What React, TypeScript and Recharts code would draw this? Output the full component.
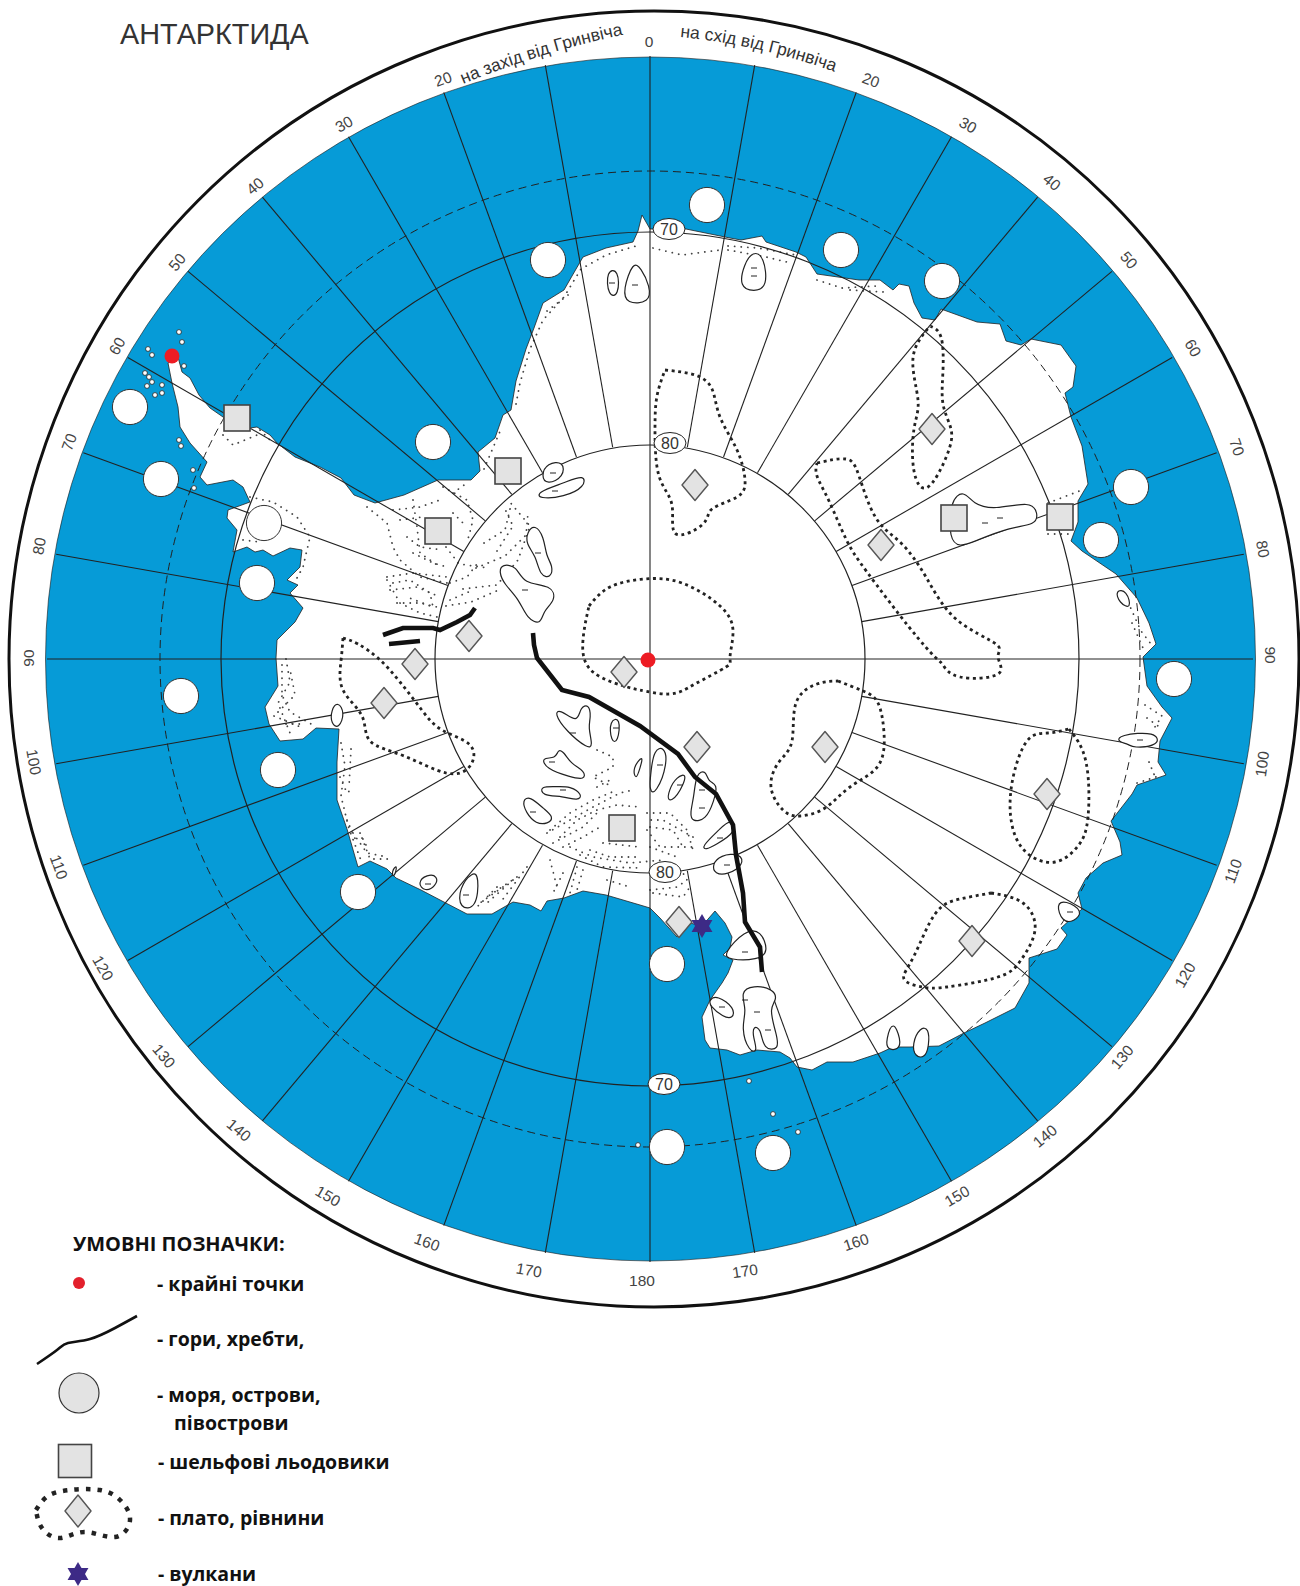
import React from "react";
import { Scatter, ScatterChart, XAxis, YAxis } from "recharts";

type Pt = [number, number];

const WIDTH = 1300;
const HEIGHT = 1586;
const SEA = "#069bd7";
const INK = "#222";
const MARK_GREY = "#e3e3e3";
const TEXT_FONT = "'Liberation Sans', Arial, sans-serif";
const LEGEND_FONT = "'Open Sans', 'Noto Sans', sans-serif";

const poleCentre: Pt = [650, 659];

// bearings of the meridians, degrees clockwise from the top of the map
const shortMeridians = [
  10, 20, 30, 40, 50, 60, 70, 80, 100, 110, 120, 130, 140, 150, 160, 170, 190, 200, 210, 220, 230, 240, 250, 260, 280,
  290, 300, 310, 320, 330, 340, 350,
];
const fullMeridians = [0, 90, 180, 270];

const coast: Pt[] = [
  [168, 363], [172, 383], [178, 407], [180, 427], [190, 443], [207, 462], [200, 477], [207, 485], [233, 480],
  [243, 487], [250, 502], [228, 510], [227, 518], [237, 530], [233, 552], [247, 547], [255, 552], [263, 550],
  [273, 556], [290, 548], [302, 550], [300, 567], [287, 580], [298, 585], [290, 593], [303, 608], [295, 622],
  [277, 640], [276, 658], [278, 686], [265, 707], [269, 724], [280, 741], [303, 739], [316, 728], [339, 729],
  [337, 762], [337, 800], [347, 829], [358, 867], [370, 861], [387, 869], [396, 878], [421, 890], [442, 901],
  [467, 914], [492, 914], [513, 902], [530, 905], [541, 911], [547, 901], [564, 898], [583, 891], [606, 895],
  [640, 905], [650, 908], [660, 918], [677, 937], [690, 923], [702, 926], [715, 911], [725, 923], [732, 937],
  [730, 948], [723, 955], [733, 960], [728, 973], [722, 983], [710, 1000], [702, 1017], [705, 1040], [710, 1048],
  [727, 1050], [740, 1055], [757, 1050], [780, 1052], [790, 1058], [797, 1067], [812, 1070], [827, 1062], [853, 1062],
  [880, 1053], [893, 1047], [910, 1047], [939, 1046], [964, 1033], [985, 1023], [1015, 1008], [1029, 983], [1029, 958],
  [1057, 949], [1067, 935], [1061, 928], [1082, 909], [1078, 893], [1086, 878], [1103, 863], [1122, 855], [1120, 842],
  [1111, 821], [1132, 794], [1137, 785], [1166, 775], [1158, 762], [1160, 741], [1172, 718], [1162, 707], [1147, 686],
  [1143, 657], [1156, 644], [1149, 623], [1137, 598], [1116, 574], [1082, 551], [1071, 541], [1078, 522], [1078, 501],
  [1088, 484], [1082, 446], [1071, 417], [1065, 393], [1073, 387], [1076, 366], [1061, 345], [1031, 339], [1021, 345],
  [1006, 341], [1000, 324], [977, 322], [941, 309], [935, 320], [922, 318], [914, 303], [909, 286], [899, 284],
  [893, 290], [880, 280], [859, 280], [817, 274], [806, 257], [796, 252], [766, 242], [762, 236], [741, 240],
  [730, 238], [686, 229], [650, 229], [642, 215], [638, 231], [633, 242], [606, 248], [583, 257], [572, 276],
  [564, 290], [543, 303], [534, 328], [526, 349], [516, 381], [511, 410], [503, 415], [495, 438], [478, 452],
  [480, 471], [471, 480], [438, 480], [404, 495], [375, 503], [354, 495], [341, 478], [320, 467], [295, 457],
  [277, 443], [270, 435], [257, 427], [250, 428], [223, 417], [210, 408], [199, 395], [190, 378], [182, 372], [178, 357],
];

const plateaus: Pt[][] = [
  [[589, 606], [610, 587], [644, 579], [682, 583], [720, 606], [733, 631], [730, 657], [726, 667], [695, 684], [669, 694], [640, 690], [631, 688], [593, 672], [583, 640]],
  [[665, 370], [695, 375], [712, 389], [720, 417], [737, 450], [745, 480], [737, 497], [712, 509], [703, 524], [676, 534], [672, 505], [659, 476], [655, 429], [657, 396]],
  [[930, 326], [941, 337], [943, 370], [943, 404], [951, 429], [947, 455], [928, 487], [914, 471], [914, 429], [918, 400], [913, 358]],
  [[817, 463], [846, 459], [859, 476], [876, 518], [901, 543], [926, 577], [956, 619], [996, 644], [998, 657], [998, 674], [960, 677], [943, 665], [935, 657], [909, 627], [867, 572], [846, 539], [829, 501], [817, 476]],
  [[838, 681], [863, 691], [878, 703], [884, 733], [878, 766], [850, 787], [825, 808], [800, 816], [783, 810], [771, 787], [779, 762], [792, 741], [796, 703], [817, 684]],
  [[1069, 729], [1086, 762], [1088, 817], [1078, 846], [1055, 862], [1027, 853], [1012, 825], [1012, 783], [1027, 741], [1048, 733]],
  [[991, 893], [1023, 903], [1035, 930], [1021, 960], [998, 977], [947, 987], [922, 987], [904, 979], [914, 956], [935, 914], [960, 899]],
  [[343, 638], [358, 644], [379, 659], [400, 682], [421, 709], [442, 730], [470, 745], [470, 766], [446, 773], [404, 756], [370, 741], [362, 716], [343, 690], [341, 661]],
];

const glaciers: Pt[][] = [
  [[541, 476], [547, 463], [564, 461], [564, 477], [547, 485]],
  [[537, 492], [564, 483], [585, 474], [585, 487], [564, 497], [539, 499]],
  [[527, 532], [535, 524], [544, 537], [546, 556], [553, 566], [551, 578], [540, 576], [536, 556], [526, 544]],
  [[499, 572], [502, 564], [517, 566], [523, 584], [552, 585], [556, 600], [543, 611], [541, 625], [527, 619], [519, 599], [504, 584]],
  [[606, 270], [619, 269], [619, 296], [608, 297]],
  [[633, 261], [641, 268], [650, 286], [650, 303], [626, 304], [623, 290]],
  [[753, 251], [764, 256], [768, 287], [754, 292], [739, 287], [744, 264]],
  [[950, 500], [964, 490], [973, 504], [994, 510], [1031, 501], [1038, 513], [1036, 525], [1010, 527], [973, 542], [960, 547], [949, 540]],
  [[1115, 590], [1127, 590], [1132, 610], [1119, 603]],
  [[1118, 735], [1157, 731], [1160, 746], [1132, 748], [1129, 744], [1118, 742]],
  [[1056, 904], [1065, 900], [1084, 911], [1074, 922], [1062, 922]],
  [[893, 1019], [901, 1040], [899, 1050], [887, 1050], [886, 1040]],
  [[920, 1027], [929, 1028], [929, 1046], [925, 1058], [915, 1057], [912, 1044]],
  [[740, 992], [753, 985], [774, 989], [777, 1000], [769, 1008], [776, 1033], [780, 1050], [763, 1050], [761, 1028], [753, 1026], [753, 1037], [758, 1052], [749, 1052], [741, 1028], [747, 1010]],
  [[709, 1000], [717, 995], [735, 1008], [733, 1019], [723, 1017], [710, 1006]],
  [[723, 954], [745, 930], [761, 930], [769, 952], [758, 960], [729, 960]],
  [[712, 865], [720, 855], [741, 853], [744, 865], [727, 875], [715, 874]],
  [[701, 847], [720, 829], [731, 818], [737, 832], [715, 845], [706, 850]],
  [[554, 713], [560, 709], [578, 724], [580, 707], [589, 704], [591, 717], [588, 727], [593, 746], [588, 749], [566, 731]],
  [[609, 720], [621, 717], [618, 743], [611, 742]],
  [[541, 757], [556, 759], [558, 749], [564, 752], [571, 764], [585, 771], [585, 780], [570, 777], [546, 769]],
  [[540, 786], [557, 787], [570, 786], [583, 795], [578, 801], [563, 796], [542, 796]],
  [[522, 800], [530, 796], [544, 809], [554, 817], [548, 824], [536, 824], [526, 813]],
  [[632, 768], [644, 754], [640, 768], [636, 781]],
  [[654, 750], [664, 746], [668, 763], [656, 794], [649, 792], [651, 770]],
  [[676, 777], [689, 772], [677, 798], [667, 802], [669, 790]],
  [[696, 773], [706, 770], [708, 782], [718, 784], [714, 801], [706, 820], [692, 822], [690, 813], [694, 797]],
  [[417, 883], [427, 874], [438, 876], [436, 886], [425, 892]],
  [[459, 888], [473, 871], [479, 876], [477, 909], [459, 909]],
  [[331, 710], [338, 701], [345, 713], [339, 729], [331, 724]],
  [[391, 872], [398, 863], [394, 879]],
];

const glacierTicks: Pt[] = [
  [553, 473], [555, 491], [538, 553], [525, 590], [612, 283], [635, 285], [754, 268], [754, 276], [985, 523], [1000, 518],
  [1140, 740], [1070, 912], [745, 1000], [757, 1012], [768, 1030], [722, 1007], [745, 952], [727, 865], [720, 838],
  [573, 733], [616, 728], [552, 762], [563, 790], [533, 812], [660, 765], [680, 785], [702, 790], [702, 808], [428, 884], [466, 895],
];

const islets: Pt[] = [
  [148, 349], [152, 355], [145, 373], [149, 377], [152, 382], [147, 386], [162, 385], [162, 393], [155, 395], [182, 342],
  [179, 332], [184, 366], [179, 440], [181, 446], [193, 470], [194, 488], [749, 1081], [773, 1114], [798, 1132], [638, 1145],
];

const stipple: Pt[][] = [
  [[367, 507], [387, 523], [393, 547], [400, 560], [420, 577], [447, 583]],
  [[413, 500], [417, 527], [420, 553], [440, 567]],
  [[443, 487], [467, 500], [473, 520], [467, 543]],
  [[387, 580], [400, 603], [420, 613], [437, 617]],
  [[393, 583], [410, 580], [430, 593], [433, 607], [407, 597]],
  [[446, 547], [459, 564], [488, 568]],
  [[463, 589], [497, 585], [518, 560], [530, 526], [509, 501]],
  [[446, 606], [471, 602], [501, 589]],
  [[484, 469], [501, 429]],
  [[497, 551], [513, 526], [505, 509]],
  [[516, 404], [520, 383], [530, 349], [543, 320], [564, 297], [581, 269], [606, 255], [636, 246]],
  [[547, 311], [568, 295]],
  [[653, 248], [682, 255], [720, 250]],
  [[728, 246], [758, 248], [796, 255]],
  [[728, 250], [766, 257], [791, 263]],
  [[817, 280], [842, 288], [876, 286]],
  [[850, 290], [884, 292]],
  [[1048, 503], [1082, 490]],
  [[1048, 534], [1069, 534]],
  [[1128, 602], [1141, 631], [1151, 644]],
  [[1132, 623], [1143, 648]],
  [[1145, 705], [1162, 716], [1153, 730]],
  [[1147, 718], [1158, 726]],
  [[1137, 783], [1162, 775]],
  [[1149, 762], [1156, 779]],
  [[223, 435], [233, 445], [257, 435]],
  [[260, 430], [270, 440]],
  [[250, 497], [273, 502], [297, 517], [310, 537], [303, 567], [297, 578]],
  [[243, 540], [260, 542]],
  [[286, 659], [290, 682], [278, 703], [290, 733]],
  [[274, 716], [303, 728]],
  [[282, 665], [282, 695], [290, 712], [311, 724]],
  [[278, 712], [295, 695], [290, 669]],
  [[286, 724], [303, 724]],
  [[341, 743], [345, 766], [341, 796], [349, 829], [362, 863]],
  [[351, 749], [349, 787]],
  [[362, 838], [370, 859], [391, 859]],
  [[340, 777], [347, 793], [353, 788]],
  [[347, 820], [357, 843]],
  [[360, 833], [367, 847]],
  [[393, 510], [420, 507], [440, 500]],
  [[400, 520], [423, 517]],
  [[453, 493], [467, 483]],
  [[453, 513], [463, 523]],
  [[407, 537], [420, 547], [443, 550]],
  [[413, 553], [433, 563], [447, 567]],
  [[387, 577], [413, 573], [447, 577]],
  [[390, 590], [417, 587], [440, 597]],
  [[397, 603], [420, 603], [437, 607]],
  [[450, 583], [467, 577], [480, 560]],
  [[450, 600], [473, 590]],
  [[484, 543], [505, 530], [511, 505]],
  [[476, 568], [505, 556], [526, 535], [528, 513]],
  [[547, 833], [570, 820], [593, 807], [620, 793], [633, 790]],
  [[553, 843], [583, 827], [597, 813]],
  [[560, 837], [577, 820], [597, 810], [617, 805], [640, 807]],
  [[550, 830], [570, 813], [593, 800], [617, 790]],
  [[563, 847], [583, 837], [600, 827]],
  [[570, 847], [593, 857], [630, 863], [663, 860]],
  [[580, 855], [603, 867], [643, 868]],
  [[590, 850], [610, 857], [640, 857]],
  [[603, 843], [640, 847]],
  [[693, 837], [663, 820], [650, 820]],
  [[647, 813], [670, 813], [687, 830], [693, 850]],
  [[650, 827], [673, 830], [683, 847]],
  [[647, 830], [660, 847], [693, 847]],
  [[650, 847], [677, 857]],
  [[597, 750], [613, 757], [613, 767], [593, 777], [613, 787]],
  [[597, 787], [610, 780]],
  [[550, 860], [557, 887]],
  [[563, 873], [553, 893]],
  [[577, 867], [570, 893]],
  [[583, 870], [577, 890]],
  [[607, 880], [630, 887]],
  [[650, 890], [677, 887], [687, 880], [683, 873]],
  [[653, 893], [683, 897], [690, 887]],
  [[497, 887], [477, 907]],
  [[517, 877], [487, 897]],
  [[503, 887], [480, 903]],
  [[513, 880], [487, 903]],
  [[527, 867], [500, 903]],
  [[353, 833], [367, 853], [387, 857]],
];

const ranges: Pt[][] = [
  [[533, 633], [534, 645], [537, 658], [562, 690], [589, 697], [640, 726], [678, 754], [695, 777], [716, 794], [733, 825], [736, 855], [743, 893], [745, 922], [760, 947], [762, 972]],
  [[383, 635], [403, 628], [433, 628], [440, 630], [457, 622], [470, 615], [475, 608]],
  [[389, 644], [420, 641]],
];
const legendRange: Pt[] = [[37, 1364], [57, 1350], [68, 1343], [90, 1339], [115, 1328], [137, 1316]];

const seaCircles: Pt[] = [
  [548, 260], [433, 442], [130, 407], [161, 479], [264, 523], [257, 583], [707, 205], [841, 250], [942, 281], [1131, 487],
  [1101, 540], [181, 696], [278, 770], [358, 892], [1174, 679], [667, 964], [667, 1147], [773, 1153],
];
const shelfSquares: Pt[] = [[237, 418], [508, 471], [438, 531], [954, 518], [1060, 517], [622, 828]];
const plateauDiamonds: Pt[] = [
  [469, 636], [415, 664], [384, 703], [624, 672], [695, 485], [932, 429], [881, 545], [697, 747], [825, 747], [1047, 794], [972, 941], [679, 922],
];
const extremePoints: Pt[] = [[172, 356], [648, 660]];
const volcanoes: Pt[] = [[702, 926]];

const latitudeBadges = [
  { x: 669, y: 229, label: "70" },
  { x: 670, y: 443, label: "80" },
  { x: 665, y: 872, label: "80" },
  { x: 664, y: 1084, label: "70" },
];

const degreeLabels = [
  { x: 649, y: 41, label: "0", angle: 0 },
  { x: 443, y: 79, label: "20", angle: -20 },
  { x: 344, y: 124, label: "30", angle: -30 },
  { x: 255, y: 186, label: "40", angle: -40 },
  { x: 177, y: 262, label: "50", angle: -50 },
  { x: 117, y: 346, label: "60", angle: -60 },
  { x: 69, y: 442, label: "70", angle: -70 },
  { x: 39, y: 546, label: "80", angle: -80 },
  { x: 28, y: 658, label: "90", angle: -90 },
  { x: 34, y: 762, label: "100", angle: 80 },
  { x: 59, y: 867, label: "110", angle: 70 },
  { x: 103, y: 968, label: "120", angle: 60 },
  { x: 164, y: 1056, label: "130", angle: 50 },
  { x: 239, y: 1130, label: "140", angle: 40 },
  { x: 328, y: 1196, label: "150", angle: 30 },
  { x: 427, y: 1242, label: "160", angle: 20 },
  { x: 529, y: 1270, label: "170", angle: 10 },
  { x: 642, y: 1280, label: "180", angle: 0 },
  { x: 745, y: 1271, label: "170", angle: -8 },
  { x: 856, y: 1242, label: "160", angle: -18 },
  { x: 957, y: 1196, label: "150", angle: -30 },
  { x: 1045, y: 1136, label: "140", angle: -40 },
  { x: 1122, y: 1057, label: "130", angle: -50 },
  { x: 1185, y: 975, label: "120", angle: -60 },
  { x: 1233, y: 871, label: "110", angle: -70 },
  { x: 1262, y: 764, label: "100", angle: -82 },
  { x: 1270, y: 655, label: "90", angle: 90 },
  { x: 1263, y: 549, label: "80", angle: 80 },
  { x: 1237, y: 447, label: "70", angle: 70 },
  { x: 1193, y: 348, label: "60", angle: 60 },
  { x: 1129, y: 260, label: "50", angle: 50 },
  { x: 1052, y: 182, label: "40", angle: 40 },
  { x: 968, y: 125, label: "30", angle: 30 },
  { x: 871, y: 80, label: "20", angle: 20 },
];

const legendTexts = [
  { x: 157, y: 1291, label: "- крайні точки" },
  { x: 157, y: 1346, label: "- гори, хребти," },
  { x: 157, y: 1402, label: "- моря, острови," },
  { x: 174, y: 1430, label: "півострови" },
  { x: 158, y: 1469, label: "- шельфові льодовики" },
  { x: 158, y: 1525, label: "- плато, рівнини" },
  { x: 158, y: 1581, label: "- вулкани" },
];
const legendHeading = [{ x: 73, y: 1251, label: "УМОВНІ ПОЗНАЧКИ:" }];
const mapTitle = [{ x: 120, y: 44, label: "АНТАРКТИДА" }];
const legendPlateau: Pt[] = [[36, 1510], [48, 1496], [70, 1490], [100, 1490], [120, 1500], [130, 1520], [115, 1537], [85, 1532], [60, 1538], [42, 1528]];

const toRows = (pts: Pt[]) => pts.map(([x, y]) => ({ x, y }));
const closed = (pts: Pt[]) => [...pts, pts[0]];

const meridianRay = (bearing: number, inner: number): Pt[] => {
  const a = (bearing * Math.PI) / 180;
  return [inner, 603].map((r) => [poleCentre[0] + r * Math.sin(a), poleCentre[1] - r * Math.cos(a)] as Pt);
};

const NoDot = () => <g />;

const polyline = (key: string, pts: Pt[], lineProps: Record<string, unknown>, joint: any = "linear") => (
  <Scatter
    key={key}
    data={toRows(pts)}
    line={lineProps}
    lineJointType={joint}
    shape={NoDot}
    isAnimationActive={false}
    legendType="none"
  />
);

const marks = (key: string, rows: object[], shape: (p: any) => React.ReactElement) => (
  <Scatter key={key} data={rows} shape={shape} isAnimationActive={false} legendType="none" />
);

const ring = (rx: number, ry: number, fill: string, stroke: string, strokeWidth: number, dash?: string) => (p: any) => (
  <ellipse cx={p.cx} cy={p.cy} rx={rx} ry={ry} fill={fill} stroke={stroke} strokeWidth={strokeWidth} strokeDasharray={dash} />
);

const square = (side: number) => (p: any) => (
  <rect x={p.cx - side / 2} y={p.cy - side / 2} width={side} height={side} fill={MARK_GREY} stroke="#444" strokeWidth={1.6} />
);

const diamond = (w: number, h: number) => (p: any) => (
  <polygon
    points={`${p.cx},${p.cy - h} ${p.cx + w},${p.cy} ${p.cx},${p.cy + h} ${p.cx - w},${p.cy}`}
    fill={MARK_GREY}
    stroke="#555"
    strokeWidth={1.4}
    strokeLinejoin="round"
  />
);

const star = (r: number) => (p: any) => {
  const up = `${p.cx},${p.cy - r} ${p.cx + r * 0.87},${p.cy + r / 2} ${p.cx - r * 0.87},${p.cy + r / 2}`;
  const down = `${p.cx},${p.cy + r} ${p.cx + r * 0.87},${p.cy - r / 2} ${p.cx - r * 0.87},${p.cy - r / 2}`;
  return (
    <g fill="#3d2a86">
      <polygon points={up} />
      <polygon points={down} />
    </g>
  );
};

const tick = (p: any) => <line x1={p.cx - 3} x2={p.cx + 3} y1={p.cy} y2={p.cy} stroke={INK} strokeWidth={1} />;

const degreeText = (p: any) => (
  <text
    x={p.cx}
    y={p.cy}
    fontFamily={TEXT_FONT}
    fontSize={15.5}
    fill="#444"
    textAnchor="middle"
    dominantBaseline="central"
    transform={`rotate(${p.payload.angle} ${p.cx} ${p.cy})`}
  >
    {p.payload.label}
  </text>
);

const badge = (p: any) => (
  <g>
    <ellipse cx={p.cx} cy={p.cy} rx={16} ry={10.5} fill="#fff" stroke={INK} strokeWidth={1} />
    <text x={p.cx} y={p.cy} fontFamily={TEXT_FONT} fontSize={16} fill="#333" textAnchor="middle" dominantBaseline="central">
      {p.payload.label}
    </text>
  </g>
);

const plainText = (font: string, size: number, weight: number | string, fill: string) => (p: any) => (
  <text x={p.cx} y={p.cy} fontFamily={font} fontSize={size} fontWeight={weight} fill={fill}>
    {p.payload.label}
  </text>
);

// the two captions bend along the rim of the map
const arcCaption = () => (
  <g fontFamily={TEXT_FONT} fontSize={17.5} fill="#333">
    <path id="capWest" d="M463 84 Q546 50 632 33" fill="none" />
    <path id="capEast" d="M680 37 Q764 45 846 76" fill="none" />
    <text>
      <textPath href="#capWest">на захід від Гринвіча</textPath>
    </text>
    <text>
      <textPath href="#capEast">на схід від Гринвіча</textPath>
    </text>
  </g>
);

export default function App() {
  return (
    <div style={{ position: "absolute", left: 0, top: 0, width: WIDTH, height: HEIGHT, background: "#fff" }}>
      <ScatterChart width={WIDTH} height={HEIGHT} margin={{ top: 0, right: 0, bottom: 0, left: 0 }}>
        <XAxis type="number" dataKey="x" domain={[0, WIDTH]} hide />
        <YAxis type="number" dataKey="y" domain={[0, HEIGHT]} reversed hide />

        {marks("rim", toRows([[654, 659]]), ring(645, 648, "#fff", "#111", 3))}
        {marks("ocean", toRows([[650.5, 659]]), ring(605, 602, SEA, "#1a1a1a", 0.6))}
        {polyline("land", closed(coast), { fill: "#fff", stroke: INK, strokeWidth: 0.8 })}
        {stipple.map((s, i) =>
          polyline(`stipple-${i}`, s, { stroke: "#444", strokeWidth: 1.8, strokeLinecap: "round", strokeDasharray: "0.1 6.5" })
        )}
        {marks("lat-66", toRows([poleCentre]), ring(490, 488, "none", "#222", 1, "8 5"))}
        {marks("lat-70", toRows([poleCentre]), ring(429, 427, "none", "#222", 1.2))}
        {marks("lat-80", toRows([poleCentre]), ring(215, 214, "none", "#222", 1.2))}
        {shortMeridians.map((b) => polyline(`mer-${b}`, meridianRay(b, 215), { stroke: "#222", strokeWidth: 1.1 }))}
        {fullMeridians.map((b) => polyline(`mer-${b}`, meridianRay(b, 0), { stroke: "#222", strokeWidth: 1.1 }))}

        {glaciers.map((g, i) => polyline(`glacier-${i}`, g, { fill: "#fff", stroke: "#222", strokeWidth: 1.2 }, "basisClosed"))}
        {marks("glacier-ticks", toRows(glacierTicks), tick)}
        {marks("islets", toRows(islets), ring(2.4, 2.4, "#fff", "#222", 0.8))}
        {plateaus.map((pl, i) =>
          polyline(`plateau-${i}`, closed(pl), { stroke: "#222", strokeWidth: 2.8, strokeDasharray: "3 3.6" }, "natural")
        )}
        {ranges.map((r, i) => polyline(`range-${i}`, r, { stroke: "#111", strokeWidth: 4.6 }))}

        {marks("sea-circles", toRows(seaCircles), ring(17.6, 17.6, "#fff", "#333", 1))}
        {marks("shelves", toRows(shelfSquares), square(26))}
        {marks("diamonds", toRows(plateauDiamonds), diamond(13, 15.5))}
        {marks("volcanoes", toRows(volcanoes), star(12))}
        {marks("extremes", toRows(extremePoints), ring(7.5, 7.5, "#ed1c24", "none", 0))}
        {marks("badges", latitudeBadges, badge)}
        {marks("degrees", degreeLabels, degreeText)}
        {marks("captions", toRows([poleCentre]), arcCaption)}
        {marks("title", mapTitle, plainText(TEXT_FONT, 28.8, 400, "#333"))}

        {marks("legend-heading", legendHeading, plainText(LEGEND_FONT, 20, 700, "#111"))}
        {marks("legend-texts", legendTexts, plainText(LEGEND_FONT, 19.5, 700, "#111"))}
        {marks("legend-dot", toRows([[79, 1283]]), ring(6, 6, "#e3202c", "none", 0))}
        {polyline("legend-range", legendRange, { stroke: "#111", strokeWidth: 2.6 }, "natural")}
        {marks("legend-circle", toRows([[79, 1393]]), ring(20, 20, MARK_GREY, "#333", 1.2))}
        {marks("legend-square", toRows([[75, 1461]]), square(33))}
        {polyline("legend-plateau", closed(legendPlateau), { stroke: "#222", strokeWidth: 4.5, strokeDasharray: "4.5 7" }, "natural")}
        {marks("legend-diamond", toRows([[78, 1511]]), diamond(13, 16))}
        {marks("legend-star", toRows([[78, 1574]]), star(12))}
      </ScatterChart>
    </div>
  );
}
